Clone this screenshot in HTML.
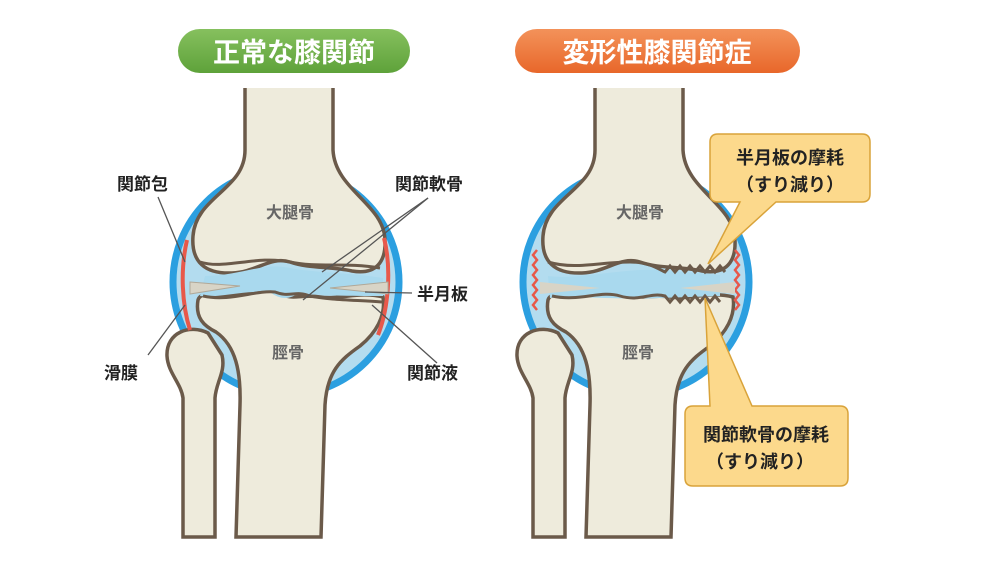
<!DOCTYPE html>
<html><head><meta charset="utf-8"><style>
html,body{margin:0;padding:0;background:#fff;}
svg{display:block;}
text{font-family:"Liberation Sans","Noto Sans CJK JP",sans-serif;}
</style></head><body>
<svg width="1000" height="562" viewBox="0 0 1000 562" xmlns="http://www.w3.org/2000/svg">
<defs>
<linearGradient id="gg" x1="0" y1="0" x2="0" y2="1"><stop offset="0" stop-color="#86c05e"/><stop offset="1" stop-color="#5ea23a"/></linearGradient>
<linearGradient id="og" x1="0" y1="0" x2="0" y2="1"><stop offset="0" stop-color="#f3925a"/><stop offset="1" stop-color="#e8672a"/></linearGradient>
<g id="knee">
 <circle cx="286" cy="282" r="113" fill="#b3dcef" stroke="#2b9fe0" stroke-width="7"/>
 <!-- fibula -->
 <path d="M208,333 C190,324 166,332 167,356 C168,373 181,383 183,398 L183,537 L215,537 L215,398 C216,382 226,372 222,355 Z" fill="#eeebdc" stroke="#6b5a4a" stroke-width="3.5"/>
 <!-- tibia -->
 <path d="M198,300 C195,318 204,326 216,332 C236,346 241,372 240,405 L236,537 L321,537 L325,405 C327,372 340,360 360,346 C376,333 386,316 383,297 C360,291 340,300 320,297 C300,294 292,301 280,293 C265,287 240,298 220,295 C210,294 200,293 198,300 Z" fill="#eeebdc" stroke="#6b5a4a" stroke-width="3.5"/>
 <!-- femur -->
 <path d="M245,88 L245,150 C245,190 196,196 193,236 C191,262 205,274 232,273 C257,272 270,256 290,262 C310,269 330,266 352,271 C376,275 386,262 385,240 C384,204 335,190 333,150 L333,88" fill="#eeebdc" stroke="#6b5a4a" stroke-width="3.5"/>
</g>
</defs>

<!-- titles -->
<rect x="178" y="29" width="232" height="44" rx="22" fill="url(#gg)"/>
<text x="294" y="62" font-size="27" font-weight="bold" fill="#fff" text-anchor="middle">正常な膝関節</text>
<rect x="515" y="29" width="285" height="44" rx="22" fill="url(#og)"/>
<text x="657" y="62" font-size="27" font-weight="bold" fill="#fff" text-anchor="middle">変形性膝関節症</text>

<!-- LEFT KNEE -->
<use href="#knee"/>
<path d="M187,240 C180,270 182,305 190,330" fill="none" stroke="#e8584a" stroke-width="4"/>
<path d="M384,238 C392,270 388,310 378,335" fill="none" stroke="#e8584a" stroke-width="4"/>
<path d="M205,276 C240,276 262,262 290,268 C315,273 345,272 383,278 L383,296 C350,296 320,296 300,292 C290,300 280,300 270,292 C245,290 220,298 200,296 Z" fill="#a9d9ee"/>
<path d="M190,282 L240,286 L190,294 Z M388,282 L330,288 L388,294 Z" fill="#d8d4c6" stroke="#b0a898" stroke-width="1"/>
<path d="M200,262 C225,270 255,255 290,262 C318,268 345,262 380,268" fill="none" stroke="#6b5a4a" stroke-width="3"/>
<path d="M203,296 C230,302 255,290 275,292 C290,298 295,290 310,296 C330,300 355,300 382,302" fill="none" stroke="#6b5a4a" stroke-width="3"/>
<text x="290" y="218" font-size="16" font-weight="bold" fill="#666" text-anchor="middle">大腿骨</text>
<text x="288" y="358" font-size="16" font-weight="bold" fill="#666" text-anchor="middle">脛骨</text>
<!-- labels left -->
<g font-size="17" font-weight="bold" fill="#222">
<text x="117" y="190">関節包</text>
<text x="104" y="379">滑膜</text>
<text x="395" y="190">関節軟骨</text>
<text x="417" y="300">半月板</text>
<text x="407" y="379">関節液</text>
</g>
<g stroke="#555" stroke-width="1.3" fill="none">
<path d="M158,197 L185,262"/>
<path d="M148,355 L185,305"/>
<path d="M428,198 L303,300"/>
<path d="M428,198 L322,272"/>
<path d="M412,293 L365,292"/>
<path d="M437,363 L372,305"/>
</g>

<!-- RIGHT KNEE -->
<use href="#knee" transform="translate(350,0)"/>
<path d="M537,250 l-4,5 l4,5 l-4,5 l4,5 l-4,5 l4,5 l-4,5 l4,5 l-4,5 l4,5 l-4,5 l4,5" fill="none" stroke="#e8584a" stroke-width="2.5"/>
<path d="M735,250 l4,5 l-4,5 l4,5 l-4,5 l4,5 l-4,5 l4,5 l-4,5 l4,5 l-4,5 l4,5 l-4,5" fill="none" stroke="#e8584a" stroke-width="2.5"/>
<path d="M548,276 C580,280 620,268 660,270 L720,275 L720,296 L660,298 C620,300 590,296 550,298 Z" fill="#a9d9ee"/>
<path d="M540,282 L600,288 L540,294 Z M735,282 L680,288 L735,294 Z" fill="#d8d4c6"/>
<path d="M548,262 C575,270 600,262 630,262 C650,262 660,270 665,272 l5,-6 l5,6 l5,-6 l5,6 l5,-6 l5,6 l5,-6 l5,6 l5,-6 l5,6 l5,-6 l5,6" fill="none" stroke="#6b5a4a" stroke-width="3"/>
<path d="M552,296 C580,302 600,290 620,296 C640,302 650,292 665,296 l5,6 l5,-6 l5,6 l5,-6 l5,6 l5,-6 l5,6 l5,-6 l5,6 l5,-6 l5,6" fill="none" stroke="#6b5a4a" stroke-width="3"/>
<text x="640" y="218" font-size="16" font-weight="bold" fill="#666" text-anchor="middle">大腿骨</text>
<text x="638" y="358" font-size="16" font-weight="bold" fill="#666" text-anchor="middle">脛骨</text>

<!-- callouts -->
<path d="M718,134 H862 Q870,134 870,142 V194 Q870,202 862,202 H776 L708,264 L740,202 H718 Q710,202 710,194 V142 Q710,134 718,134 Z" fill="#fcd98c" stroke="#d9a33a" stroke-width="1.5"/>
<text x="790" y="164" font-size="18" font-weight="bold" fill="#222" text-anchor="middle">半月板の摩耗</text>
<text x="790" y="191" font-size="18" font-weight="bold" fill="#222" text-anchor="middle">（すり減り）</text>
<path d="M693,406 H710 L705,298 L752,406 H840 Q848,406 848,414 V478 Q848,486 840,486 H693 Q685,486 685,478 V414 Q685,406 693,406 Z" fill="#fcd98c" stroke="#d9a33a" stroke-width="1.5"/>
<text x="766" y="441" font-size="18" font-weight="bold" fill="#222" text-anchor="middle">関節軟骨の摩耗</text>
<text x="760" y="468" font-size="18" font-weight="bold" fill="#222" text-anchor="middle">（すり減り）</text>
</svg>
</body></html>
